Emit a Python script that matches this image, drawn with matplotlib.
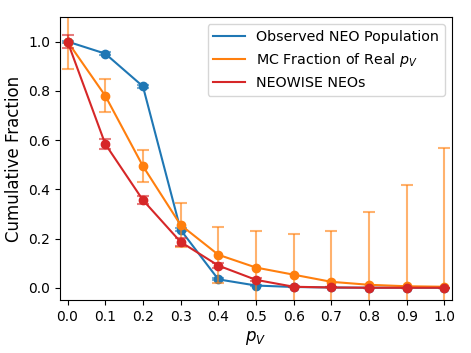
import matplotlib
matplotlib.use("Agg")
import matplotlib.pyplot as plt
import numpy as np

pv = [0.0, 0.1, 0.2, 0.3, 0.4, 0.5, 0.6, 0.7, 0.8, 0.9, 1.0]
observed = [1.0, 0.951, 0.818, 0.235, 0.034, 0.009, 0.003, 0.001, 0.0, 0.0, 0.0]
observed_err = [0.004, 0.006, 0.007, 0.006, 0.004, 0.002, 0.001, 0.0, 0.0, 0.0, 0.0]
mc_frac = [1.0, 0.78, 0.494, 0.255, 0.134, 0.082, 0.053, 0.024, 0.012, 0.006, 0.004]
mc_err = [0.11, 0.068, 0.064, 0.09, 0.113, 0.148, 0.167, 0.206, 0.295, 0.41, 0.563]
neowise = [1.0, 0.584, 0.356, 0.186, 0.09, 0.032, 0.004, 0.001, 0.0, 0.0, 0.0]
neowise_err = [0.025, 0.02, 0.015, 0.015, 0.01, 0.006, 0.002, 0.0, 0.0, 0.0, 0.0]

series = [
    ("Observed NEO Population", observed, observed_err, "tab:blue"),
    (r"MC Fraction of Real $p_V$", mc_frac, mc_err, "tab:orange"),
    ("NEOWISE NEOs", neowise, neowise_err, "tab:red"),
]

fig = plt.figure(figsize=(4.71, 3.53), dpi=100)
ax = fig.add_axes([0.1274, 0.150, 0.8323, 0.802])

for label, y, err, c in series:
    ax.plot(pv, y, color=c, lw=1.5, label=label)
    ax.errorbar(pv, y, yerr=err, fmt="none", ecolor=c, alpha=0.6, capsize=4, elinewidth=1.5, capthick=1.5)
    ax.plot(pv, y, "o", color=c, ms=6)

ax.set_xlim(-0.02, 1.02)
ax.set_ylim(-0.05, 1.1)
ax.set_xticks(np.arange(0, 1.01, 0.1))
ax.set_xticklabels([f"{v:.1f}" for v in np.arange(0, 1.01, 0.1)])
ax.set_yticks([0.0, 0.2, 0.4, 0.6, 0.8, 1.0])
ax.tick_params(labelsize=10)
ax.set_xlabel(r"$p_V$", fontsize=12)
ax.set_ylabel("Cumulative Fraction", fontsize=12)
ax.legend(loc="upper right", fontsize=10.3, handlelength=2.2)

fig.savefig("out.png", dpi=100)
